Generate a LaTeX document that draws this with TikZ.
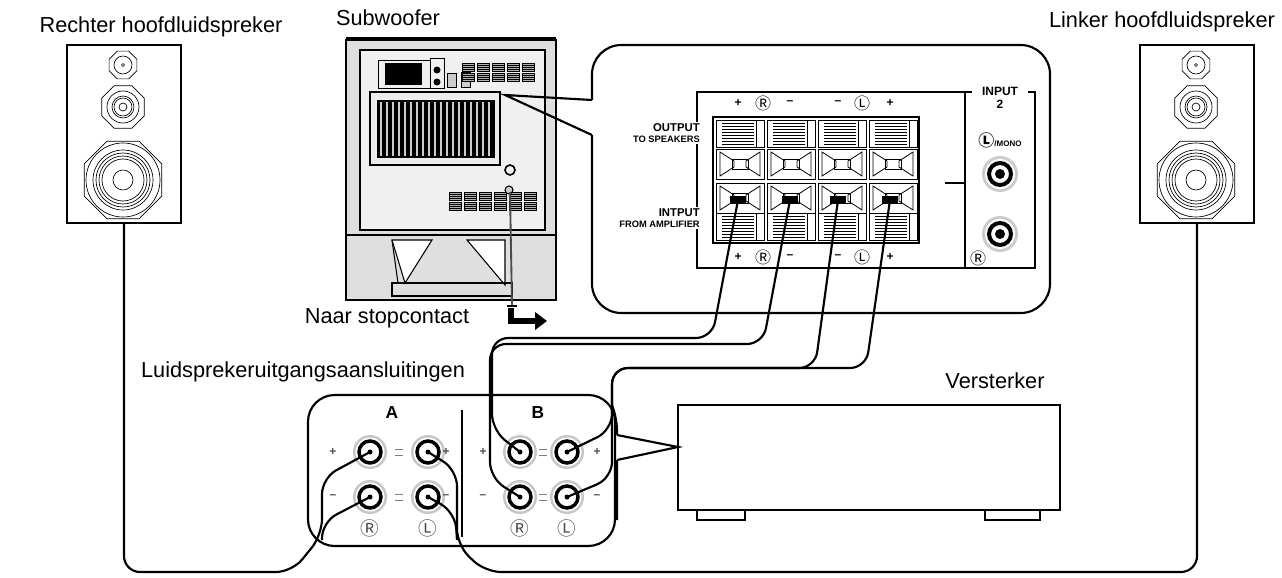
\documentclass[tikz,border=0pt]{standalone}
\usepackage{fontspec}
\setmainfont{Liberation Sans}
\newfontfamily\djv{Noto Sans CJK SC}
\usetikzlibrary{arrows.meta}
\newcommand\octo[3]{\draw[shift={(#1,#2)}] (22.5:#3)--(67.5:#3)--(112.5:#3)--(157.5:#3)--(202.5:#3)--(247.5:#3)--(292.5:#3)--(337.5:#3)--cycle;}
\newcommand\spkr[2]{%
 \begin{scope}[shift={(#1,#2)}]
  \draw[line width=1.6] (0,0) rectangle (114,178);
  \begin{scope}[line width=0.5]
  \octo{56}{20}{15}\draw (56,20) circle (9) (56,20) circle (1.5);
  \octo{56}{62}{23}\draw (56,62) circle (16) (56,62) circle (11) (56,62) circle (9) (56,62) circle (4);
  \octo{56}{135}{42}\draw (56,135) circle (37) (56,135) circle (30) (56,135) circle (27) (56,135) circle (24) (56,135) circle (21) (56,135) circle (10);
  \end{scope}
 \end{scope}}
\newcommand\term[2]{\fill[gray!45] (#1,#2) circle (17);\fill[white] (#1,#2) circle (14.5);\draw[line width=2.6] (#1,#2) circle (11);\fill (#1,#2) circle (2.5);}
\newcommand\vent[2]{\begin{scope}[shift={(#1,#2)},line width=0.4]\draw[fill=gray!60] (0,0) rectangle (12,8);\foreach \k in {2,4,6}\draw (0,\k)--(12,\k);\end{scope}}
\newcommand\btie[2]{\begin{scope}[shift={(#1,#2)},line width=0.6]\draw (0,0) rectangle (48,30);\draw (4,3)--(18,12)--(18,18)--(4,27)--cycle;\draw (44,3)--(30,12)--(30,18)--(44,27)--cycle;\draw (16,10) rectangle (32,20);\end{scope}}
\newcommand\slots[2]{\begin{scope}[shift={(#1,#2)},line width=0.5]\draw (0,0) rectangle (48,27);\foreach \k in {3,6,...,24}\draw (6,\k)--(38,\k);\draw (40,0)--(40,27);\end{scope}}
\tikzset{wire/.style={line width=1.6,rounded corners=12},lab/.style={font=\fontsize{16.3}{18}\selectfont,inner sep=0},
 sm/.style={font=\fontsize{7}{8}\selectfont\bfseries,inner sep=1.5,align=right,anchor=east,fill=white},pm/.style={font=\fontsize{9}{9}\selectfont\bfseries,inner sep=0},
 cl/.style={font=\djv\fontsize{12}{12}\selectfont,inner sep=0}}
\begin{document}
\begin{tikzpicture}[x=0.75pt,y=-0.75pt]
\useasboundingbox (0,0) rectangle (1282,578);
% labels
\node[lab] (lr) at (161,27) {Rechter hoofdluidspreker};
\node[lab] (ll) at (1162,22) {Linker hoofdluidspreker};
\node[lab] (lsub) at (388,18) {Subwoofer};
\node[lab] (lstop) at (387,318) {Naar stopcontact};
\node[lab] (lout) at (303,372) {Luidsprekeruitgangsaansluitingen};
\node[lab] (lamp) at (995,381) {Versterker};
% speakers
\spkr{67}{45}
\spkr{1140}{45}
\coordinate (rsb) at (124,223);
\coordinate (lsb) at (1197,223);
% subwoofer
\fill[gray!25] (346,38) rectangle (556,300);
\draw[line width=1.4] (346,40) rectangle (556,300);
\draw[line width=1.4] (346,38)--(556,38);
\draw[fill=gray!12,line width=0.8] (360,50) rectangle (545,230);
\draw[line width=0.8] (346,235)--(556,235);
\draw[fill=white,line width=0.8] (392,240)--(432,240)--(405,283)--cycle;
\draw[fill=white,line width=0.8] (467,240)--(505,240)--(505,285)--cycle;
\draw[line width=0.8] (392,240)--(398,283)--(510,283);
\draw[line width=0.8] (392,283) rectangle (512,296);
\draw[fill=gray!15,line width=0.8] (370,92) rectangle (500,165);
\fill (377,100) rectangle (495,158);
\foreach \i in {380,386,...,492}\fill[gray!40] (\i,102) rectangle (\i+2,156);
\fill (385,63) rectangle (422,85);
\draw[line width=0.6] (378,60) rectangle (430,88);
\draw[line width=0.6] (430,58) rectangle (444,88);
\fill (437,70) circle (3.5) (437,82) circle (3.5);
\draw[line width=0.6,fill=gray!40] (447,73) rectangle (456,87) (461,72) rectangle (470,87);
\foreach \i in {462,477,492,507,522}{\vent{\i}{63}\vent{\i}{73}}
\foreach \i in {449,464,479,494,509,524}{\vent{\i}{192}\vent{\i}{202}}
\draw[line width=1.2] (510,170) circle (5);
\draw[line width=0.8,fill=gray!40] (509,190) circle (4);
\draw[line width=1.4,gray!60!black] (510,192)--(512,306);
\draw[line width=1.2] (507,306)--(517,306);
\draw[line width=4.5,-{Triangle[width=13pt,length=9pt]}] (511,308)--(511,321)--(547,321);
\coordinate (subpt) at (505,95);
% callout
\draw[line width=1.6,rounded corners=22,fill=white] (592,100)--(592,45)--(1050,45)--(1050,313)--(592,313)--(592,135);
\draw[line width=1.6] (592,100)--(subpt)--(592,135);
\draw[line width=1.2] (697,92) rectangle (965,268);
\draw[line width=1.2] (965,92)--(965,268)--(1035,268)--(1035,92)--(1028,92) (965,92)--(972,92);
\node[pm,font=\fontsize{9}{10}\selectfont\bfseries,fill=white,inner sep=2,align=center] at (1000,98) {INPUT\\2};
\draw[line width=1.2] (945,183)--(965,183);
\draw[line width=1.5] (713,117) rectangle (919,243);
\foreach \i in {0,1,2,3}{
 \slots{716+51*\i}{120}
 \btie{716+51*\i}{149}
 \btie{716+51*\i}{183}
 \slots{716+51*\i}{213}}
\foreach[count=\n] \i in {738,790,838,890}{\fill (\i-8,196) rectangle (\i+8,204); \coordinate (in\n) at (\i,200);}
\foreach \y in {103,257}{
\node[pm] at (738,\y) {+};\node[cl] at (763,\y) {Ⓡ};\node[pm] at (790,\y) {–};
\node[pm] at (838,\y) {–};\node[cl] at (862,\y) {Ⓛ};\node[pm] at (890,\y) {+};}
\node[sm] at (702,133) {\fontsize{8.5}{9}\selectfont OUTPUT\\TO SPEAKERS};
\node[sm] at (702,218) {\fontsize{8.5}{9}\selectfont INTPUT\\FROM AMPLIFIER};
\node[pm] at (1000,140) {{\djv\fontsize{12}{12}\selectfont Ⓛ}\fontsize{6}{6}\selectfont/MONO};
\foreach \y in {174,234}{\fill[gray!40] (1000,\y) circle (18);\fill[white] (1000,\y) circle (15);\draw[line width=3] (1000,\y) circle (11);\fill (1000,\y) circle (5);}
\node[cl] at (978,258) {Ⓡ};
% amplifier panel
\draw[line width=1.6,rounded corners=20] (308,395) rectangle (615,546);
\draw[line width=1.6,rounded corners=8] (612,405)--(617,420)--(617,435) (617,460)--(617,520);
\draw[line width=2] (462,410)--(462,537);
\node[pm,font=\fontsize{13}{13}\selectfont\bfseries] at (392,413) {A};
\node[pm,font=\fontsize{13}{13}\selectfont\bfseries] at (538,413) {B};
\foreach \x/\nm in {370/AR,428/AL,520/BR,567/BL}{
 \foreach \y/\s in {452/p,497/m}{\term{\x}{\y}\coordinate (\nm\s) at (\x,\y);}}
\foreach \x in {399,543}{\draw[gray,line width=0.6] (\x-4,449)--(\x+4,449) (\x-4,455)--(\x+4,455) (\x-4,494)--(\x+4,494) (\x-4,500)--(\x+4,500);}
\foreach \a/\b in {333/446,483/597}{
 \node[pm,gray!60!black] at (\a,452) {+};\node[pm,gray!60!black] at (\b,452) {+};
 \node[pm,gray!60!black] at (\a,497) {–};\node[pm,gray!60!black] at (\b,497) {–};}
\foreach \x/\t in {370/Ⓡ,428/Ⓛ,520/Ⓡ,567/Ⓛ}\node[cl,gray!60!black,font=\djv\fontsize{14}{14}\selectfont] at (\x,528) {\t};
% amplifier
\draw[line width=1.6] (678,405) rectangle (1060,510);
\draw[line width=1.6] (617,435)--(678,447)--(617,460);
\draw[line width=1.2,fill=white] (697,510) rectangle (745,520) (985,510) rectangle (1040,520);
\coordinate (ampin) at (678,447);
% wires
\draw[wire] (rsb)--(124,572)--(292,572)--(322,535)--(322,478)--(ARp);
\draw[wire] (322,540)--(322,522)--(ARm);
\draw[wire] (lsb)--(1197,572)--(485,572)--(457,545)--(457,470)--(ALp);
\draw[wire] (457,540)--(455,512)--(ALm);
\draw[wire] (in1)--(712,338)--(492,338)--(492,430)--(BRp);
\draw[wire] (in2)--(763,344)--(490,344)--(490,478)--(BRm);
\draw[wire] (in3)--(815,368)--(612,368)--(612,430)--(BLp);
\draw[wire] (in4)--(866,368)--(612,368)--(612,478)--(BLm);
\end{tikzpicture}
\end{document}
